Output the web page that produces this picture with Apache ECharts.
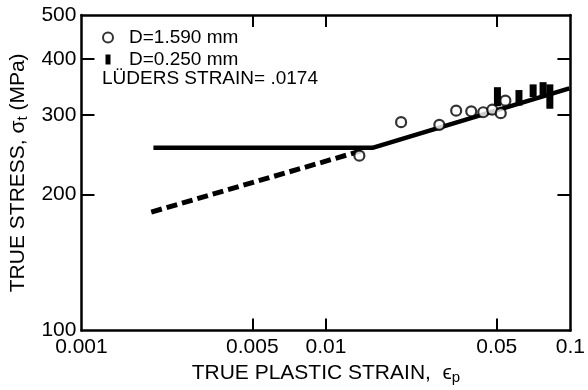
<!DOCTYPE html>
<html>
<head>
<meta charset="utf-8">
<script src="https://cdn.jsdelivr.net/npm/echarts@6/dist/echarts.min.js"></script>
<style>
  html, body { margin: 0; padding: 0; background: #fff; }
  #chart { width: 588px; height: 390px; }
</style>
</head>
<body>
<div id="chart"></div>
<script>
// axis ticks and labels
var xLabels = [0.001, 0.005, 0.01, 0.05, 0.1];
var xTicks = [0.005, 0.01, 0.05];
var yLabels = [100, 200, 300, 400, 500];
var yTicks = [200, 300, 400];

// D = 1.590 mm wire: [strain, stress]
var coarseWire = [
    [0.0137, 244], [0.0203, 289.5], [0.0291, 285.6], [0.0341, 307], [0.0393, 306],
    [0.0440, 304.5], [0.0479, 308.5], [0.0519, 303], [0.0542, 323]
];
// D = 0.250 mm wire: [strain, stress low, stress high]
var fineWire = [
    [0.0503, 314, 346], [0.0616, 315, 341], [0.0704, 329, 351],
    [0.0773, 331, 355], [0.0824, 310, 351]
];
// fitted lines
var ludersLine = [[0.00197, 254], [0.0155, 254], [0.099, 344]];
var extrapLine = [[0.00193, 183], [0.0139, 250]];

var font = "'Liberation Sans', Arial, Helvetica, sans-serif";

function nearest(arr, v) {
    var best = arr[0];
    arr.forEach(function (a) {
        if (Math.abs(Math.log(a) - Math.log(v)) < Math.abs(Math.log(best) - Math.log(v))) best = a;
    });
    return best;
}

var myChart = echarts.init(document.getElementById('chart'), null, { renderer: 'canvas' });

var axisLine = { show: true, lineStyle: { color: '#000', width: 2.5 } };
var tickStyle = { color: '#000', width: 2 };

var option = {
    backgroundColor: '#fff',
    animation: false,
    grid: { left: 78, right: 11, top: 15, bottom: 56 },
    legend: {
        orient: 'vertical',
        left: 102,
        top: 28,
        padding: 0,
        itemWidth: 10,
        itemHeight: 10,
        itemGap: 3,
        textStyle: { fontFamily: font, fontSize: 19, color: '#000', padding: [0, 0, 0, 11] },
        data: [
            { name: 'D=1.590 mm', icon: 'circle' },
            { name: 'D=0.250 mm', icon: 'path://M0,0h5v10h-5z' }
        ]
    },
    graphic: [{
        type: 'text',
        left: 102,
        top: 69,
        style: { text: 'LÜDERS STRAIN= .0174', font: '19px ' + font, fill: '#000' }
    }],
    xAxis: [{
        type: 'log',
        min: 0.001,
        max: 0.1,
        position: 'bottom',
        axisLine: axisLine,
        splitLine: { show: false },
        minorTick: { show: false },
        axisTick: { show: true, inside: true, length: 12, customValues: xTicks, lineStyle: tickStyle },
        axisLabel: {
            customValues: xLabels,
            showMinLabel: true, showMaxLabel: true,
            margin: 6,
            fontFamily: font, fontSize: 21, color: '#000',
            formatter: function (v) { return String(nearest(xLabels, v)); }
        },
        name: 'TRUE PLASTIC STRAIN,  {e|ϵ}{sub|p}',
        nameLocation: 'middle',
        nameGap: 22,
        nameTextStyle: {
            fontFamily: font, fontSize: 21, color: '#000',
            rich: {
                e: { fontFamily: font, fontSize: 21, color: '#000' },
                sub: { fontFamily: font, fontSize: 15, color: '#000', verticalAlign: 'bottom', padding: [9, 0, 0, 0] }
            }
        }
    }, {
        type: 'log',
        min: 0.001,
        max: 0.1,
        position: 'top',
        axisLine: axisLine,
        splitLine: { show: false },
        axisTick: { show: true, inside: true, length: 12, customValues: xTicks, lineStyle: tickStyle },
        axisLabel: { show: false }
    }],
    yAxis: [{
        type: 'log',
        min: 100,
        max: 500,
        position: 'left',
        axisLine: axisLine,
        splitLine: { show: false },
        axisTick: { show: true, inside: true, length: 13, customValues: yTicks, lineStyle: tickStyle },
        axisLabel: {
            customValues: yLabels,
            showMinLabel: true, showMaxLabel: true,
            margin: 5,
            fontFamily: font, fontSize: 21, color: '#000',
            formatter: function (v) { return String(nearest(yLabels, v)); }
        },
        name: 'TRUE STRESS, {s|σ}{sub|t} (MPa)',
        nameLocation: 'middle',
        nameGap: 41,
        nameTextStyle: {
            fontFamily: font, fontSize: 21, color: '#000',
            rich: {
                s: { fontFamily: font, fontSize: 21, color: '#000' },
                sub: { fontFamily: font, fontSize: 15, color: '#000', verticalAlign: 'bottom', padding: [9, 0, 0, 0] }
            }
        }
    }, {
        type: 'log',
        min: 100,
        max: 500,
        position: 'right',
        axisLine: axisLine,
        splitLine: { show: false },
        axisTick: { show: true, inside: true, length: 13, customValues: yTicks, lineStyle: tickStyle },
        axisLabel: { show: false }
    }],
    series: [{
        name: 'luders',
        type: 'line',
        data: ludersLine,
        symbol: 'none',
        lineStyle: { color: '#000', width: 4.5 },
        z: 2
    }, {
        name: 'extrap',
        type: 'line',
        data: extrapLine,
        symbol: 'none',
        lineStyle: { color: '#000', width: 5, type: [11, 5] },
        z: 2
    }, {
        name: 'D=0.250 mm',
        type: 'custom',
        data: fineWire,
        encode: { x: 0, y: [1, 2] },
        itemStyle: { color: '#000' },
        renderItem: function (params, api) {
            var top = api.coord([api.value(0), api.value(2)]);
            var bot = api.coord([api.value(0), api.value(1)]);
            return {
                type: 'rect',
                shape: { x: top[0] - 3.5, y: top[1], width: 7, height: bot[1] - top[1] },
                style: { fill: '#000' }
            };
        },
        z: 3
    }, {
        name: 'D=1.590 mm',
        type: 'scatter',
        data: coarseWire,
        symbol: 'circle',
        symbolSize: 10,
        itemStyle: { color: '#fff', borderColor: '#000', borderWidth: 2.2 },
        z: 4
    }]
};

myChart.setOption(option);
</script>
</body>
</html>
